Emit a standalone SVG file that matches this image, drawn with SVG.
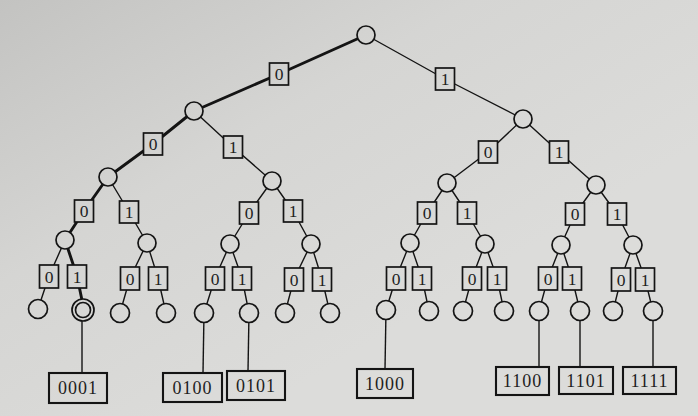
<svg xmlns="http://www.w3.org/2000/svg" width="698" height="416" viewBox="0 0 698 416">
<defs>
<linearGradient id="paper" gradientUnits="userSpaceOnUse" x1="0" y1="0" x2="250" y2="416">
<stop offset="0" stop-color="#c3c3c1"/>
<stop offset="0.5" stop-color="#d5d5d3"/>
<stop offset="1" stop-color="#dcdcda"/>
</linearGradient>
<style>
.e{fill:none;stroke:#141414;stroke-width:1.4;stroke-linejoin:round}
.b{stroke-width:2.9}
.lb{fill:url(#paper);stroke:#141414;stroke-width:1.7}
.lt{font-family:"Liberation Serif","DejaVu Serif",serif;font-size:17.5px;fill:#1e1e1e;text-anchor:middle;dominant-baseline:central}
.n{fill:url(#paper);stroke:#141414;stroke-width:1.7}
.rec{fill:url(#paper);stroke:#141414;stroke-width:2.1}
.rt{font-family:"Liberation Serif","DejaVu Serif",serif;font-size:18px;letter-spacing:1px;fill:#1e1e1e;text-anchor:middle;dominant-baseline:central}
</style>
</defs>
<rect width="698" height="416" fill="url(#paper)"/>
<g id="connectors">
<g><polyline class="e b" points="366,35 279,74 194,111"/><rect class="lb" x="269.5" y="63" width="19" height="22"/><text class="lt" x="279" y="74">0</text></g>
<g><polyline class="e" points="366,35 445,79 523,119"/><rect class="lb" x="435.5" y="68" width="19" height="22"/><text class="lt" x="445" y="79">1</text></g>
<g><polyline class="e b" points="194,111 153,144 108,177"/><rect class="lb" x="143.5" y="133" width="19" height="22"/><text class="lt" x="153" y="144">0</text></g>
<g><polyline class="e" points="194,111 233,147 272,181"/><rect class="lb" x="223.5" y="136" width="19" height="22"/><text class="lt" x="233" y="147">1</text></g>
<g><polyline class="e" points="523,119 488,152 447,183"/><rect class="lb" x="478.5" y="141" width="19" height="22"/><text class="lt" x="488" y="152">0</text></g>
<g><polyline class="e" points="523,119 559,152 596,185"/><rect class="lb" x="549.5" y="141" width="19" height="22"/><text class="lt" x="559" y="152">1</text></g>
<g><polyline class="e b" points="108,177 84,211 65,240"/><rect class="lb" x="74.5" y="200" width="19" height="22"/><text class="lt" x="84" y="211">0</text></g>
<g><polyline class="e" points="108,177 129,212 147,243"/><rect class="lb" x="119.5" y="201" width="19" height="22"/><text class="lt" x="129" y="212">1</text></g>
<g><polyline class="e" points="272,181 249,213 230,244"/><rect class="lb" x="239.5" y="202" width="19" height="22"/><text class="lt" x="249" y="213">0</text></g>
<g><polyline class="e" points="272,181 293,211 311,244"/><rect class="lb" x="283.5" y="200" width="19" height="22"/><text class="lt" x="293" y="211">1</text></g>
<g><polyline class="e" points="447,183 427,213 410,243"/><rect class="lb" x="417.5" y="202" width="19" height="22"/><text class="lt" x="427" y="213">0</text></g>
<g><polyline class="e" points="447,183 467,213 485,244"/><rect class="lb" x="457.5" y="202" width="19" height="22"/><text class="lt" x="467" y="213">1</text></g>
<g><polyline class="e" points="596,185 575,214 561,245"/><rect class="lb" x="565.5" y="203" width="19" height="22"/><text class="lt" x="575" y="214">0</text></g>
<g><polyline class="e" points="596,185 617,214 633,245"/><rect class="lb" x="607.5" y="203" width="19" height="22"/><text class="lt" x="617" y="214">1</text></g>
<g><polyline class="e" points="65,240 49,276 38,309"/><rect class="lb" x="39.5" y="265" width="19" height="23"/><text class="lt" x="49" y="276.5">0</text></g>
<g><polyline class="e b" points="65,240 77,276 84,310"/><rect class="lb" x="67.5" y="265" width="19" height="23"/><text class="lt" x="77" y="276.5">1</text></g>
<g><polyline class="e" points="147,243 130,278 120,313"/><rect class="lb" x="120.5" y="267" width="19" height="23"/><text class="lt" x="130" y="278.5">0</text></g>
<g><polyline class="e" points="147,243 158,278 166,313"/><rect class="lb" x="148.5" y="267" width="19" height="23"/><text class="lt" x="158" y="278.5">1</text></g>
<g><polyline class="e" points="230,244 215,278 204,313"/><rect class="lb" x="205.5" y="267" width="19" height="23"/><text class="lt" x="215" y="278.5">0</text></g>
<g><polyline class="e" points="230,244 242,278 249,313"/><rect class="lb" x="232.5" y="267" width="19" height="23"/><text class="lt" x="242" y="278.5">1</text></g>
<g><polyline class="e" points="311,244 294,279 285,313"/><rect class="lb" x="284.5" y="268" width="19" height="23"/><text class="lt" x="294" y="279.5">0</text></g>
<g><polyline class="e" points="311,244 322,279 330,313"/><rect class="lb" x="312.5" y="268" width="19" height="23"/><text class="lt" x="322" y="279.5">1</text></g>
<g><polyline class="e" points="410,243 396,278 386,310"/><rect class="lb" x="386.5" y="267" width="19" height="23"/><text class="lt" x="396" y="278.5">0</text></g>
<g><polyline class="e" points="410,243 422,278 429,311"/><rect class="lb" x="412.5" y="267" width="19" height="23"/><text class="lt" x="422" y="278.5">1</text></g>
<g><polyline class="e" points="485,244 472,278 463,311"/><rect class="lb" x="462.5" y="267" width="19" height="23"/><text class="lt" x="472" y="278.5">0</text></g>
<g><polyline class="e" points="485,244 497,278 504,311"/><rect class="lb" x="487.5" y="267" width="19" height="23"/><text class="lt" x="497" y="278.5">1</text></g>
<g><polyline class="e" points="561,245 548,278 539,311"/><rect class="lb" x="538.5" y="267" width="19" height="23"/><text class="lt" x="548" y="278.5">0</text></g>
<g><polyline class="e" points="561,245 572,278 580,311"/><rect class="lb" x="562.5" y="267" width="19" height="23"/><text class="lt" x="572" y="278.5">1</text></g>
<g><polyline class="e" points="633,245 621,279 613,311"/><rect class="lb" x="611.5" y="268" width="19" height="23"/><text class="lt" x="621" y="279.5">0</text></g>
<g><polyline class="e" points="633,245 645,279 653,311"/><rect class="lb" x="635.5" y="268" width="19" height="23"/><text class="lt" x="645" y="279.5">1</text></g>
<line class="e" x1="82" y1="310" x2="82" y2="373"/>
<line class="e" x1="204" y1="313" x2="203" y2="373"/>
<line class="e" x1="249" y1="313" x2="248" y2="371"/>
<line class="e" x1="386" y1="310" x2="385" y2="369"/>
<line class="e" x1="539" y1="311" x2="539" y2="367"/>
<line class="e" x1="580" y1="311" x2="580" y2="367"/>
<line class="e" x1="653" y1="311" x2="653" y2="367"/>
</g>
<g id="root"><circle class="n" cx="366" cy="35" r="9"/></g>
<g id="n0"><circle class="n" cx="194" cy="111" r="9"/></g>
<g id="n1"><circle class="n" cx="523" cy="119" r="9"/></g>
<g id="n00"><circle class="n" cx="108" cy="177" r="9"/></g>
<g id="n01"><circle class="n" cx="272" cy="181" r="9"/></g>
<g id="n10"><circle class="n" cx="447" cy="183" r="9"/></g>
<g id="n11"><circle class="n" cx="596" cy="185" r="9"/></g>
<g id="n000"><circle class="n" cx="65" cy="240" r="9"/></g>
<g id="n001"><circle class="n" cx="147" cy="243" r="9"/></g>
<g id="n010"><circle class="n" cx="230" cy="244" r="9"/></g>
<g id="n011"><circle class="n" cx="311" cy="244" r="9"/></g>
<g id="n100"><circle class="n" cx="410" cy="243" r="9"/></g>
<g id="n101"><circle class="n" cx="485" cy="244" r="9"/></g>
<g id="n110"><circle class="n" cx="561" cy="245" r="9"/></g>
<g id="n111"><circle class="n" cx="633" cy="245" r="9"/></g>
<g id="n0000"><circle class="n" cx="38" cy="309" r="9.5"/></g>
<g id="n0001"><circle class="n" cx="83" cy="310" r="11" stroke-width="2.8"/><circle class="n" cx="83" cy="310" r="7.5" stroke-width="1.9"/></g>
<g id="n0010"><circle class="n" cx="120" cy="313" r="9.5"/></g>
<g id="n0011"><circle class="n" cx="166" cy="313" r="9.5"/></g>
<g id="n0100"><circle class="n" cx="204" cy="313" r="9.5"/></g>
<g id="n0101"><circle class="n" cx="249" cy="313" r="9.5"/></g>
<g id="n0110"><circle class="n" cx="285" cy="313" r="9.5"/></g>
<g id="n0111"><circle class="n" cx="330" cy="313" r="9.5"/></g>
<g id="n1000"><circle class="n" cx="386" cy="310" r="9.5"/></g>
<g id="n1001"><circle class="n" cx="429" cy="311" r="9.5"/></g>
<g id="n1010"><circle class="n" cx="463" cy="311" r="9.5"/></g>
<g id="n1011"><circle class="n" cx="504" cy="311" r="9.5"/></g>
<g id="n1100"><circle class="n" cx="539" cy="311" r="9.5"/></g>
<g id="n1101"><circle class="n" cx="580" cy="311" r="9.5"/></g>
<g id="n1110"><circle class="n" cx="613" cy="311" r="9.5"/></g>
<g id="n1111"><circle class="n" cx="653" cy="311" r="9.5"/></g>
<g id="rec0001"><rect class="rec" x="49" y="373" width="58" height="30"/><text class="rt" x="78" y="388">0001</text></g>
<g id="rec0100"><rect class="rec" x="163" y="373" width="59" height="29"/><text class="rt" x="192.5" y="387.5">0100</text></g>
<g id="rec0101"><rect class="rec" x="227" y="371" width="58" height="29"/><text class="rt" x="256" y="385.5">0101</text></g>
<g id="rec1000"><rect class="rec" x="357" y="369" width="56" height="29"/><text class="rt" x="385" y="383.5">1000</text></g>
<g id="rec1100"><rect class="rec" x="496" y="367" width="53" height="28"/><text class="rt" x="522.5" y="381">1100</text></g>
<g id="rec1101"><rect class="rec" x="559" y="367" width="54" height="27"/><text class="rt" x="586" y="380.5">1101</text></g>
<g id="rec1111"><rect class="rec" x="623" y="367" width="53" height="27"/><text class="rt" x="649.5" y="380.5">1111</text></g>
</svg>
